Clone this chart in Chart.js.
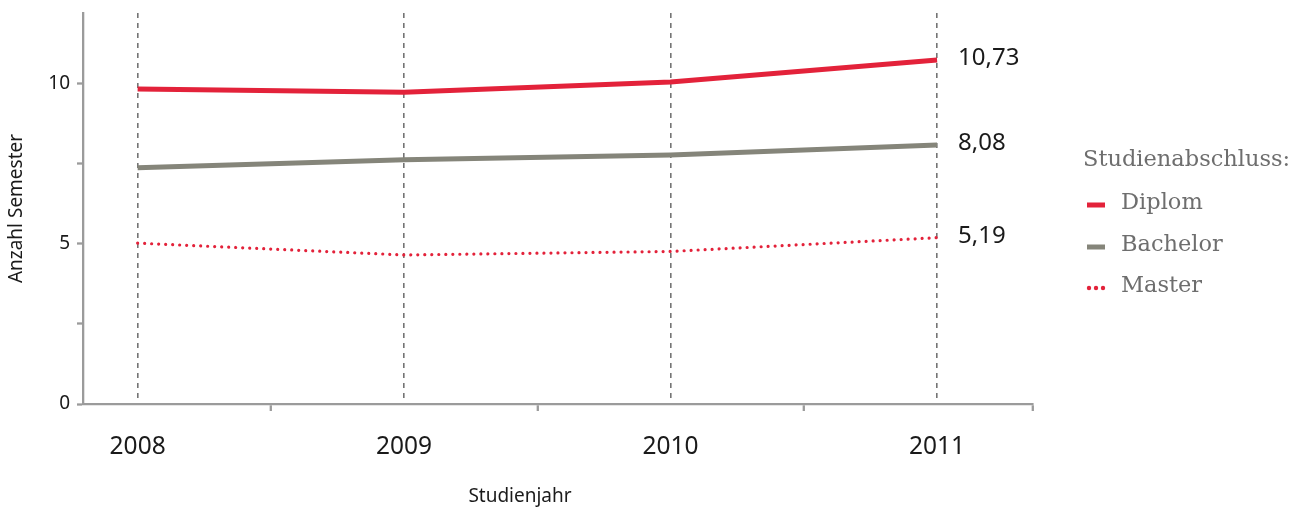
<!DOCTYPE html>
<html lang="de">
<head>
<meta charset="utf-8">
<title>Studiendauer nach Studienabschluss</title>
<script src="https://cdn.jsdelivr.net/npm/chart.js@4/dist/chart.umd.min.js"></script>
<style>
  html, body { margin: 0; padding: 0; background: #ffffff; }
  #wrap { position: relative; width: 1296px; height: 511px; }
</style>
</head>
<body>
<div id="wrap"><canvas id="chart" width="1296" height="511"></canvas></div>
<script>
// Studienjahre (x-Achse)
const years = [2008, 2009, 2010, 2011];

// Durchschnittliche Anzahl Semester je Studienabschluss
const diplom   = [9.83, 9.73, 10.05, 10.73];
const bachelor = [7.37, 7.62, 7.77, 8.08];
const master   = [5.02, 4.65, 4.76, 5.19];

// Beschriftung am Ende der Linien (letztes Studienjahr)
const endLabels = ['10,73', '8,08', '5,19'];

// Skalen-Beschriftungen
const yTickValues = [0, 2.5, 5, 7.5, 10];
const yTickLabels = ['0', '', '5', '', '10'];

const seriesNames = ['Diplom', 'Bachelor', 'Master'];
const legendTitle = 'Studienabschluss:';
const xTitle = 'Studienjahr';
const yTitle = 'Anzahl Semester';

const RED = '#e3223a';
const GREY = '#85857a';
const AXIS = '#9b9b9b';
const SANS = '"Noto Sans", "Open Sans", sans-serif';
const SERIF = '"DejaVu Serif", "Liberation Serif", serif';

const toPoints = vals => vals.map((v, i) => ({ x: years[i], y: v }));

// Ränder der x-Achse und Zwischenmarken zwischen den Jahren
const xMin = years[0] - 0.205;
const xMax = years[years.length - 1] + 0.36;
const xTickValues = [];
years.forEach((y, i) => {
  xTickValues.push(y);
  if (i < years.length - 1) xTickValues.push(y + 0.5);
});
xTickValues.push(xMax);

// Werte am Linienende
const endLabelPlugin = {
  id: 'endLabels',
  afterDatasetsDraw(chart) {
    const ctx = chart.ctx;
    ctx.save();
    ctx.font = '24px ' + SANS;
    ctx.fillStyle = '#1a1a1a';
    ctx.textAlign = 'left';
    ctx.textBaseline = 'middle';
    chart.data.datasets.forEach((ds, i) => {
      const meta = chart.getDatasetMeta(i);
      const pt = meta.data[meta.data.length - 1];
      ctx.fillText(endLabels[i], pt.x + 21, pt.y - 2);
    });
    ctx.restore();
  }
};

// Legende rechts neben dem Diagramm und Titel der x-Achse
const sideLegendPlugin = {
  id: 'sideLegend',
  afterDraw(chart) {
    const ctx = chart.ctx;
    const area = chart.chartArea;
    ctx.save();
    // x-Achsentitel
    ctx.font = '19px ' + SANS;
    ctx.fillStyle = '#1a1a1a';
    ctx.textAlign = 'center';
    ctx.textBaseline = 'middle';
    ctx.fillText(xTitle, 520, 497);

    // Legende
    const lx = area.right + 50;
    ctx.font = '22.5px ' + SERIF;
    ctx.fillStyle = '#6e6e6e';
    ctx.textAlign = 'left';
    ctx.fillText(legendTitle, lx, 160);
    const rows = [205, 247, 288];
    chart.data.datasets.forEach((ds, i) => {
      const y = rows[i];
      const mx = lx + 4;
      if (ds.borderDash && ds.borderDash.length) {
        ctx.fillStyle = ds.borderColor;
        for (let k = 0; k < 3; k++) {
          ctx.beginPath();
          ctx.arc(mx + 2 + k * 7, y, 2.2, 0, Math.PI * 2);
          ctx.fill();
        }
      } else {
        ctx.fillStyle = ds.borderColor;
        ctx.fillRect(mx, y - 2.5, 18, 5);
      }
      ctx.fillStyle = '#6e6e6e';
      ctx.fillText(ds.label, lx + 38, y - 2);
    });
    ctx.restore();
  }
};

new Chart(document.getElementById('chart'), {
  type: 'line',
  data: {
    datasets: [
      {
        label: seriesNames[0],
        data: toPoints(diplom),
        borderColor: RED,
        borderWidth: 5,
        pointRadius: 0,
        tension: 0
      },
      {
        label: seriesNames[1],
        data: toPoints(bachelor),
        borderColor: GREY,
        borderWidth: 5,
        pointRadius: 0,
        tension: 0
      },
      {
        label: seriesNames[2],
        data: toPoints(master),
        borderColor: RED,
        borderWidth: 3.2,
        borderDash: [0.01, 7],
        borderCapStyle: 'round',
        pointRadius: 0,
        tension: 0
      }
    ]
  },
  options: {
    responsive: false,
    animation: false,
    layout: { padding: { top: 13, right: 263, bottom: 0, left: 0 } },
    plugins: {
      legend: { display: false },
      tooltip: { enabled: false }
    },
    scales: {
      x: {
        type: 'linear',
        min: xMin,
        max: xMax,
        afterBuildTicks(scale) {
          scale.ticks = xTickValues.map(v => ({ value: v }));
        },
        afterFit(scale) {
          scale.height = 107;
          scale.paddingLeft = 0;
          scale.paddingRight = 0;
        },
        ticks: {
          autoSkip: false,
          maxRotation: 0,
          padding: 21,
          color: '#1a1a1a',
          font: { family: SANS, size: 24.5 },
          callback: v => (years.includes(v) ? String(v) : '')
        },
        grid: {
          drawOnChartArea: true,
          drawTicks: true,
          tickLength: 7,
          lineWidth: 1.6,
          tickWidth: 2.3,
          color: ctx => (ctx.tick && years.includes(ctx.tick.value) ? '#747474' : 'rgba(0,0,0,0)'),
          tickColor: ctx => (ctx.tick && years.includes(ctx.tick.value) ? 'rgba(0,0,0,0)' : AXIS)
        },
        border: { display: true, color: AXIS, width: 2.3, dash: [5, 5] }
      },
      y: {
        min: 0,
        max: 12.2,
        afterBuildTicks(scale) {
          scale.ticks = yTickValues.map(v => ({ value: v }));
        },
        afterFit(scale) {
          scale.width = 83;
          scale.paddingTop = 0;
          scale.paddingBottom = 0;
        },
        ticks: {
          padding: 7,
          color: '#1a1a1a',
          font: { family: SANS, size: 19 },
          callback: (v) => yTickLabels[yTickValues.indexOf(v)] ?? ''
        },
        grid: {
          drawOnChartArea: false,
          drawTicks: true,
          tickLength: 6,
          tickWidth: 2.3,
          tickColor: AXIS
        },
        border: { display: true, color: AXIS, width: 2.3 },
        title: {
          display: true,
          text: yTitle,
          color: '#1a1a1a',
          font: { family: SANS, size: 19 },
          padding: { top: 5, bottom: 0 }
        }
      }
    }
  },
  plugins: [endLabelPlugin, sideLegendPlugin]
});
</script>
</body>
</html>
